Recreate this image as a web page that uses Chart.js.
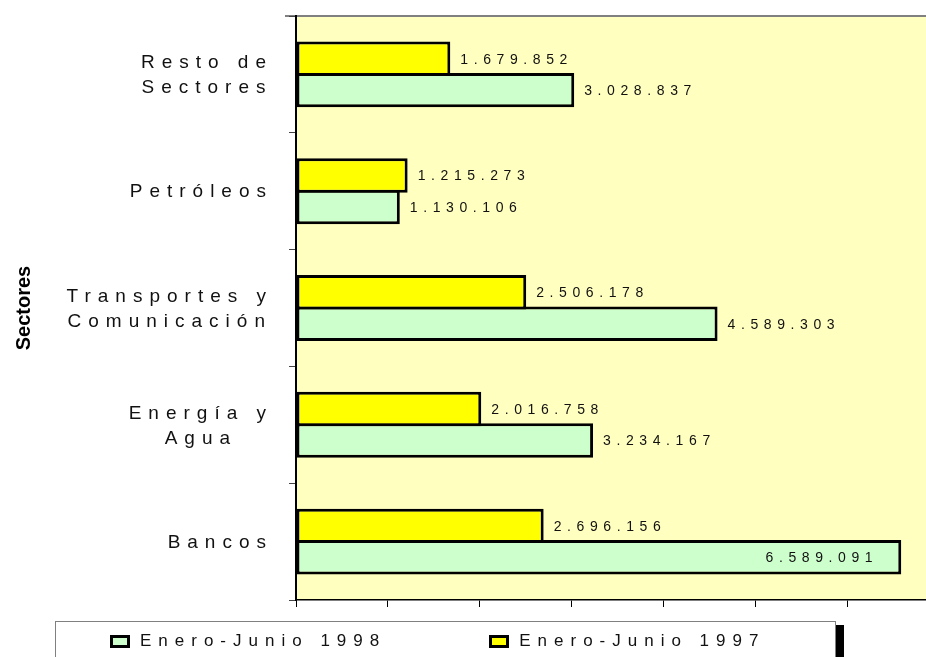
<!DOCTYPE html>
<html lang="es">
<head>
  <meta charset="UTF-8">
  <title>Sectores</title>
  <script src="https://cdn.jsdelivr.net/npm/chart.js"></script>
  <style>
    body {
      margin: 0;
      width: 926px;
      height: 657px;
      overflow: hidden;
      position: relative;
      background: #ffffff;
      font-family: Arial, "Liberation Sans", sans-serif;
    }
    #chartBox {
      position: absolute;
      left: 0;
      top: 0;
    }
    #legend {
      position: absolute;
      left: 55px;
      top: 621px;
      width: 781px;
      height: 60px;
      box-sizing: border-box;
      border: 1px solid #808080;
      background: #ffffff;
      box-shadow: 8px 4px 0 #000000;
      display: flex;
      padding: 9px 0 0 54px;
    }
    .item {
      display: flex;
      align-items: center;
      height: 20px;
      line-height: 20px;
    }
    .item + .item {
      margin-left: 103px;
    }
    .swatch {
      width: 20px;
      height: 13px;
      box-sizing: border-box;
      border: 3px solid #000000;
    }
    .item span {
      margin-left: 10px;
      font-size: 17px;
      letter-spacing: 7px;
      color: #111111;
    }
  </style>
</head>
<body>
  <div id="chartBox">
    <canvas id="sectorChart" width="945" height="657"></canvas>
  </div>
  <div id="legend"></div>

  <script>
    // Data
    const categories = [
      ['Resto de', 'Sectores'],
      ['Petróleos'],
      ['Transportes y', 'Comunicación'],
      ['Energía y', 'Agua'],
      ['Bancos']
    ];
    const label1997 = 'Enero-Junio 1997';
    const label1998 = 'Enero-Junio 1998';
    const values1997 = [1679852, 1215273, 2506178, 2016758, 2696156];
    const values1998 = [3028837, 1130106, 4589303, 3234167, 6589091];

    const FONT = 'Arial, "Liberation Sans", sans-serif';
    const VISIBLE_RIGHT = 926;

    function fmt(v) {
      return String(v).replace(/\B(?=(\d{3})+(?!\d))/g, '.');
    }

    // light yellow plot area + grey top edge
    const plotBackground = {
      id: 'plotBackground',
      beforeDraw(chart) {
        const { ctx, chartArea: a } = chart;
        ctx.save();
        ctx.fillStyle = '#FFFFC0';
        ctx.fillRect(a.left, a.top, a.right - a.left, a.bottom - a.top);
        ctx.strokeStyle = '#808080';
        ctx.lineWidth = 2;
        ctx.beginPath();
        ctx.moveTo(a.left - 11, a.top);
        ctx.lineTo(a.right, a.top);
        ctx.stroke();
        ctx.restore();
      }
    };

    // category names, spaced out, each block centred on its longest line
    const sectorLabels = {
      id: 'sectorLabels',
      afterDraw(chart) {
        const ctx = chart.ctx;
        const scale = chart.scales.y;
        const ls = 7;
        const right = scale.right - 30;
        ctx.save();
        ctx.font = '19px ' + FONT;
        ctx.letterSpacing = ls + 'px';
        ctx.fillStyle = '#111111';
        ctx.textAlign = 'center';
        ctx.textBaseline = 'middle';
        categories.forEach((lines, i) => {
          const cy = scale.getPixelForTick(i);
          const w = Math.max(...lines.map(l => ctx.measureText(l).width)) - ls;
          const cx = right - w / 2;
          lines.forEach((l, j) => {
            ctx.fillText(l, cx + ls / 2, cy + 1 + (j - (lines.length - 1) / 2) * 25);
          });
        });
        ctx.restore();
      }
    };

    // value labels at the bar ends
    const valueLabels = {
      id: 'valueLabels',
      afterDatasetsDraw(chart) {
        const ctx = chart.ctx;
        const ls = 5.6;
        ctx.save();
        ctx.font = '14px ' + FONT;
        ctx.letterSpacing = ls + 'px';
        ctx.fillStyle = '#111111';
        ctx.textBaseline = 'middle';
        chart.data.datasets.forEach((ds, di) => {
          chart.getDatasetMeta(di).data.forEach((bar, i) => {
            const text = fmt(ds.data[i]);
            const w = ctx.measureText(text).width;
            if (bar.x + 10 + w > VISIBLE_RIGHT) {
              ctx.textAlign = 'right';
              ctx.fillText(text, bar.x - 23, bar.y + 1);
            } else {
              ctx.textAlign = 'left';
              ctx.fillText(text, bar.x + 10, bar.y + 1);
            }
          });
        });
        ctx.restore();
      }
    };

    const barStyle = {
      borderColor: '#000000',
      borderWidth: 3,
      borderSkipped: false,
      categoryPercentage: 0.539,
      barPercentage: 1.095
    };

    const chart = new Chart(document.getElementById('sectorChart'), {
      type: 'bar',
      data: {
        labels: categories,
        datasets: [
          Object.assign({ label: label1997, data: values1997, backgroundColor: '#FFFF00' }, barStyle),
          Object.assign({ label: label1998, data: values1998, backgroundColor: '#CCFFCC' }, barStyle)
        ]
      },
      options: {
        responsive: false,
        animation: false,
        indexAxis: 'y',
        layout: { padding: { top: 16, right: 6, left: 0, bottom: 0 } },
        plugins: {
          legend: { display: false },
          tooltip: { enabled: false }
        },
        scales: {
          x: {
            min: 0,
            max: 7000000,
            ticks: { display: false, stepSize: 1000000 },
            grid: { drawOnChartArea: false, tickLength: 7, color: '#000000' },
            border: { color: '#000000', width: 1.5 },
            afterFit(s) { s.height = 57; }
          },
          y: {
            ticks: { display: false },
            grid: { drawOnChartArea: false, offset: true, tickLength: 7, color: '#444444' },
            border: { color: '#000000', width: 2 },
            title: {
              display: true,
              text: 'Sectores',
              color: '#000000',
              font: { family: FONT, size: 20, weight: 'bold' },
              padding: { top: 12, bottom: 0 }
            },
            afterFit(s) { s.width = 296; }
          }
        }
      },
      plugins: [plotBackground, sectorLabels, valueLabels]
    });

    // legend: 1998 first, like the original
    const legend = document.getElementById('legend');
    [[label1998, '#CCFFCC'], [label1997, '#FFFF00']].forEach(([text, color]) => {
      const item = document.createElement('div');
      item.className = 'item';
      item.innerHTML = '<div class="swatch" style="background:' + color + '"></div><span>' + text + '</span>';
      legend.appendChild(item);
    });
  </script>
</body>
</html>
